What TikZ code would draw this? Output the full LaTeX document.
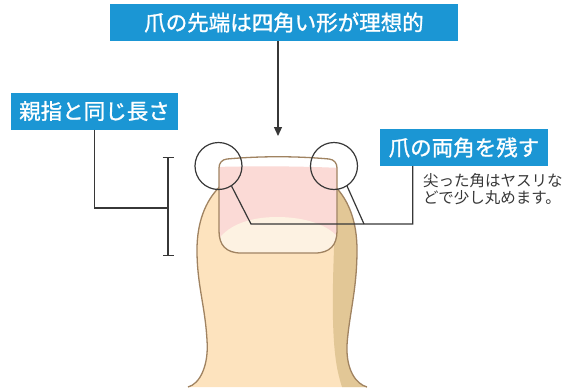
\documentclass[tikz,border=0pt]{standalone}
\usepackage{fontspec}
\newfontfamily\jpfont{Noto Sans CJK JP}
\newfontfamily\jpheavy{Noto Sans CJK JP}[FakeBold=1.2]
\usetikzlibrary{positioning}
\usetikzlibrary{arrows.meta}
\definecolor{boxblue}{RGB}{27,150,212}
\definecolor{skin}{RGB}{253,227,190}
\definecolor{skinshade}{RGB}{226,199,150}
\definecolor{rim}{RGB}{160,131,97}
\definecolor{nailpink}{RGB}{251,218,214}
\definecolor{lunula}{RGB}{253,242,226}
\definecolor{ink}{RGB}{55,55,55}
\tikzset{
  titlebox/.style = { rectangle, fill=boxblue, text=white, inner sep=0pt,
                      minimum height=37pt, font=\jpheavy\fontsize{21.5}{22}\selectfont },
  note/.style     = { align=left, inner sep=0pt, text=ink,
                      font=\jpfont\fontsize{15.5}{17}\selectfont },
  ring/.style     = { circle, draw=ink, line width=1.2pt, minimum size=47pt, inner sep=0pt },
  wire/.style     = { draw=ink, line width=1.2pt },
  outline/.style  = { draw=rim, line width=1.3pt },
}
% thumb and nail outlines
\newcommand\thumbpath{(188,387) .. controls (200,384) and (209,365) .. (207,340)
  .. controls (205,305) and (197,285) .. (197,250)
  .. controls (197,195) and (230,165) .. (278,165)
  .. controls (326,165) and (357,195) .. (357,250)
  .. controls (357,290) and (349,315) .. (347,345)
  .. controls (346,370) and (356,384) .. (367,387)}
\newcommand\nailpath{(227,159) .. controls (260,156) and (296,156) .. (329,159)
  .. controls (334,159.5) and (337,163) .. (337,168) -- (337,231)
  .. controls (337,245) and (330,253) .. (315,253) -- (241,253)
  .. controls (226,253) and (219,245) .. (219,231) -- (219,168)
  .. controls (219,163) and (222,159.5) .. (227,159) -- cycle}
\begin{document}
\begin{tikzpicture}[x=1pt,y=-1pt]
  \useasboundingbox (0,0) rectangle (566,389);

  % thumb
  \fill[skin] \thumbpath -- cycle;
  \begin{scope}
    \clip \thumbpath -- cycle;
    \fill[skinshade] (337,165) .. controls (335,230) and (332,280) .. (333,320)
      .. controls (334,360) and (338,375) .. (343,390) -- (400,390) -- (400,165) -- cycle;
  \end{scope}
  \draw[outline] \thumbpath;

  % nail
  \fill[white] \nailpath;
  \begin{scope}
    \clip \nailpath;
    \fill[nailpink] (215,167) .. controls (250,166) and (300,166) .. (340,168)
      -- (340,256) -- (215,256) -- cycle;
    \fill[lunula] (215,245) .. controls (225,225) and (250,217) .. (277,217)
      .. controls (305,217) and (330,225) .. (340,240) -- (340,256) -- (215,256) -- cycle;
  \end{scope}
  \draw[outline] \nailpath;

  \node (lcorner) [ring] at (218.5,166) {};
  \node (rcorner) [ring] at (334,166)   {};

  \node (ideal)   [titlebox,minimum width=348pt] at (284,22.5)  {爪の先端は四角い形が理想的};
  \node (samelen) [titlebox,minimum width=167pt] at (94.5,111)  {親指と同じ長さ};
  \node (keep)    [titlebox,minimum width=168pt] at (464,147.5) {爪の両角を残す};
  \node (tip) [note,anchor=north west] at (423,173) {尖った角はヤスリな\\どで少し丸めます。};

  \coordinate (nailtop) at (278,136);
  \coordinate (btop)    at (168,157);
  \coordinate (bbot)    at (168,256);
  \coordinate (bmid)    at (168,208);
  \coordinate (lbend)   at (251,224);
  \coordinate (rbend)   at (364,224);

  \draw [wire,-{Triangle[length=9pt,width=8pt]}] ([xshift=-6pt]ideal.south) -- (nailtop);
  \draw [wire,{Bar[width=11pt]}-{Bar[width=11pt]}] (btop) -- (bbot);
  \draw [wire] (samelen.south) |- (bmid);
  \draw [wire] (lcorner.-57) -- (lbend) -| ([xshift=33pt]keep.south west);
  \draw [wire] (rcorner.-57) -- (rbend);
\end{tikzpicture}
\end{document}
